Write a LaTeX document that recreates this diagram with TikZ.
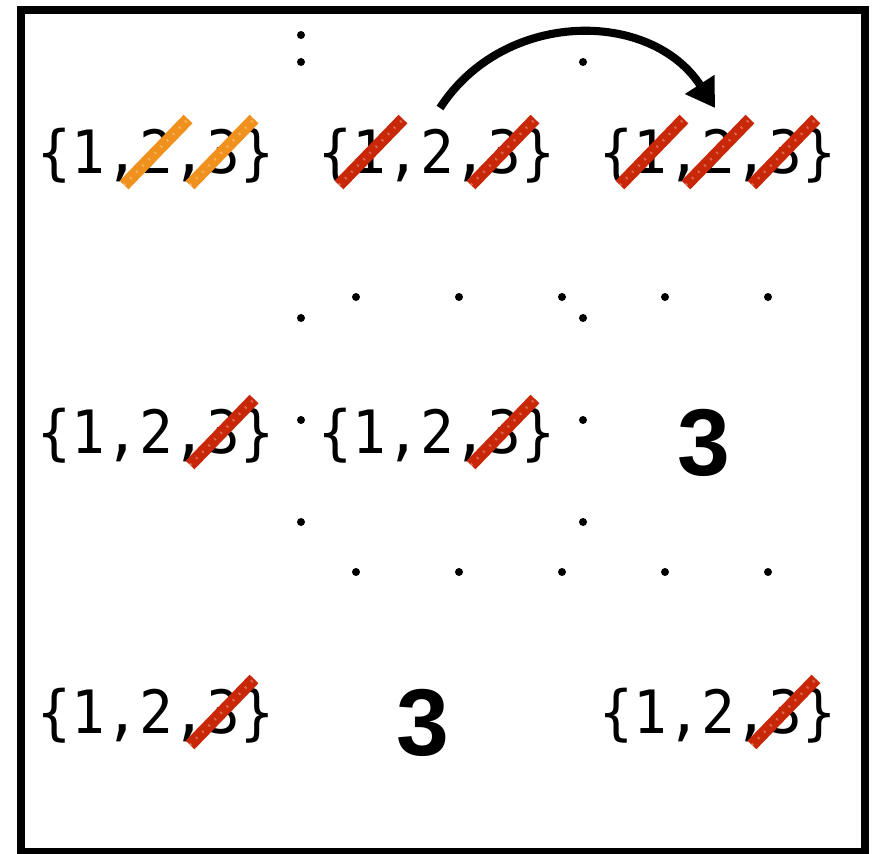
\documentclass[tikz,border=0pt]{standalone}
\usepackage{fontspec}
\usepackage{tikz}
\usetikzlibrary{matrix,arrows.meta}

\newfontfamily\cellfont[FakeStretch=0.94]{DejaVu Sans Mono}
\newfontfamily\numfont{Liberation Sans}
\definecolor{strikeorange}{RGB}{240,145,30}
\definecolor{strikered}{RGB}{200,40,8}

\begin{document}
\begin{tikzpicture}[
    x=0.02cm, y=-0.02cm,
    board/.style={
      matrix of nodes,
      nodes={anchor=center, inner sep=0pt, minimum width=5.62cm, minimum height=5.6cm,
             text height=24pt, text depth=0pt,
             font=\cellfont\fontsize{34}{40}\selectfont},
      column sep=0pt,
      row sep=0pt
    },
    solved/.style={minimum width=0pt, minimum height=0pt,
      font=\numfont\bfseries\fontsize{54}{60}\selectfont,
      xshift=-0.28cm, yshift=-0.44cm},
    cross/.style={line width=7pt, draw=strikered, line cap=butt,
      postaction={draw=white, line width=1.5pt, dash pattern=on 1pt off 4pt, opacity=0.3}},
    >={Triangle[length=16pt,width=19pt]}
]

  % frame
  \useasboundingbox (0,0) rectangle (875,853);
  \draw[line width=5pt] (21,10) rectangle (865,852);

  % the cells
  \matrix[board] (mat) at (437,432) {
    \{1,2,3\} & \{1,2,3\} & \{1,2,3\} \\
    \{1,2,3\} & \{1,2,3\} & |[solved]| 3 \\
    \{1,2,3\} & |[solved]| 3 & \{1,2,3\} \\
  };

  % dotted cell borders
  \foreach \y in {35,62,318,420,522}
  \fill (301,\y) circle[radius=0.08cm];
  \foreach \y in {62,318,420,522}
  \fill (583,\y) circle[radius=0.08cm];
  \foreach \x in {356,459,562,665,768} {
    \fill (\x,297) circle[radius=0.08cm];
    \fill (\x,572) circle[radius=0.08cm];
  }

  % struck out values
  \foreach \d in {0,1}
  \draw[cross, draw=strikeorange] (mat-1-1) ++(\d*66-32,33) -- ++(64,-66);
  \foreach \c/\d in {1-2/-1,1-2/1,1-3/-1,1-3/0,1-3/1,2-1/1,2-2/1,3-1/1,3-3/1}
  \draw[cross] (mat-\c) ++(\d*66-32,33) -- ++(64,-66);

  % propagation arrow
  \coordinate (hopS) at (440,108);
  \coordinate (hopE) at (715,108);
  \draw[->, line width=4.6pt] (hopS) .. controls (504,9) and (651,9) .. (hopE);

\end{tikzpicture}
\end{document}
